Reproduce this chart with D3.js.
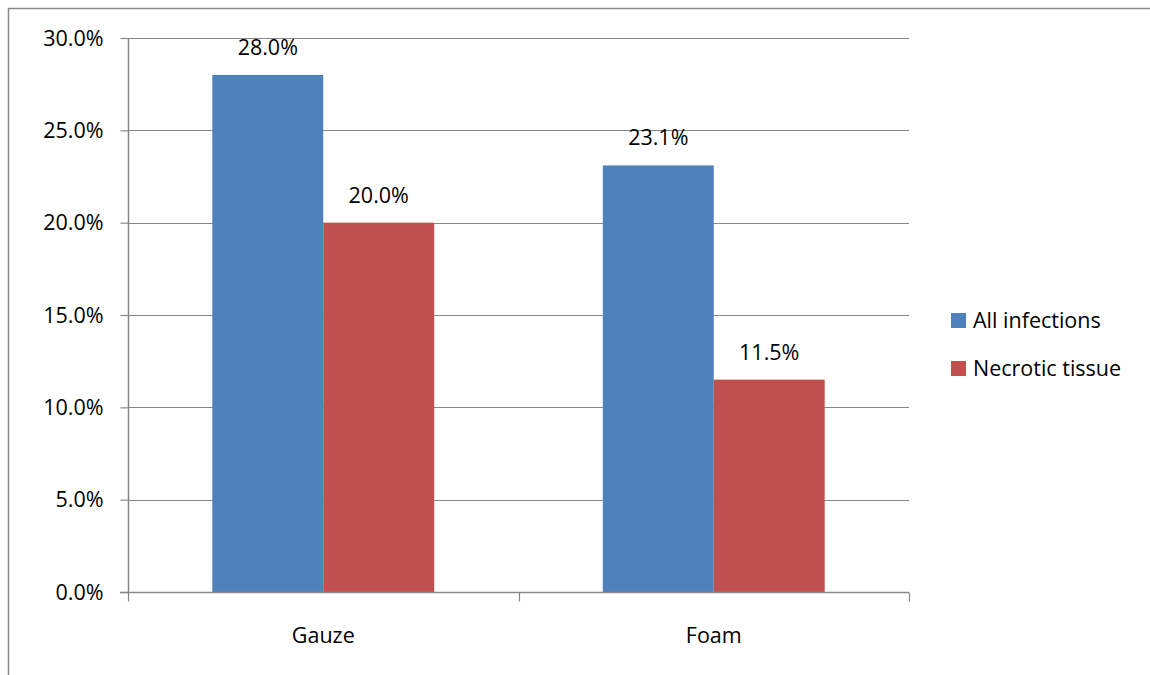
<!DOCTYPE html>
<html>
<head>
<meta charset="utf-8">
<script src="https://cdn.jsdelivr.net/npm/d3@7"></script>
<style>
  html, body { margin: 0; padding: 0; background: #fff; }
  svg { display: block; font-family: "Open Sans", Lato, sans-serif; }
</style>
</head>
<body>
<svg id="chart" width="1150" height="675"></svg>
<script>
// Wound dressing outcomes
const categories = ["Gauze", "Foam"];
const seriesNames = ["All infections", "Necrotic tissue"];
const allInfections = [0.280, 0.231];
const necroticTissue = [0.200, 0.115];
const yTicks = [0, 0.05, 0.10, 0.15, 0.20, 0.25, 0.30];
const colors = ["#4F81BD", "#C0504D"];

const seriesValues = [allInfections, necroticTissue];
const rows = categories.map((c, i) => ({
  category: c,
  values: seriesNames.map((s, j) => ({ series: s, value: seriesValues[j][i], idx: j }))
}));

const svg = d3.select("#chart");
const plot = { left: 128, right: 909, top: 38, bottom: 592 };
const grey = "#878787";
const fontFamily = "'Open Sans', Lato, sans-serif";
const fontSize = 21.5;
const fmt = d3.format(".1%");

// chart border
svg.append("rect")
  .attr("x", 8.5).attr("y", 8.5)
  .attr("width", 1160).attr("height", 700)
  .attr("fill", "none").attr("stroke", grey).attr("stroke-width", 1.5);

const x0 = d3.scaleBand().domain(categories).range([plot.left, plot.right]).paddingInner(0).paddingOuter(0);
const x1 = d3.scaleBand().domain(seriesNames).range([0, x0.bandwidth()]).paddingInner(0).paddingOuter(0.76);
const y = d3.scaleLinear().domain([0, 0.30]).range([plot.bottom, plot.top]);

// horizontal gridlines
svg.append("g")
  .selectAll("line")
  .data(yTicks.filter(t => t > 0))
  .join("line")
  .attr("x1", plot.left).attr("x2", plot.right)
  .attr("y1", d => Math.round(y(d)) + 0.5).attr("y2", d => Math.round(y(d)) + 0.5)
  .attr("stroke", grey).attr("stroke-width", 1.2);

// bars
const groups = svg.append("g").selectAll("g")
  .data(rows).join("g")
  .attr("transform", d => `translate(${x0(d.category)},0)`);

groups.selectAll("rect")
  .data(d => d.values).join("rect")
  .attr("x", d => x1(d.series))
  .attr("width", x1.bandwidth())
  .attr("y", d => y(d.value))
  .attr("height", d => y(0) - y(d.value))
  .attr("fill", d => colors[d.idx]);

groups.selectAll("text")
  .data(d => d.values).join("text")
  .attr("x", d => x1(d.series) + x1.bandwidth() / 2)
  .attr("y", d => y(d.value) - 20)
  .attr("text-anchor", "middle")
  .attr("font-size", fontSize)
  .attr("fill", "#000")
  .text(d => fmt(d.value));

// y axis
const yAxis = d3.axisLeft(y).tickValues(yTicks).tickFormat(fmt).tickSize(8).tickPadding(17);
const gy = svg.append("g").attr("transform", `translate(${plot.left + 0.5},0)`).call(yAxis);
gy.select(".domain").attr("stroke", grey).attr("stroke-width", 1.5).attr("d", `M0,${plot.top}V${plot.bottom}`);
gy.selectAll(".tick line").attr("stroke", grey).attr("stroke-width", 1.2);
gy.selectAll(".tick text").attr("font-size", fontSize).attr("fill", "#000").attr("font-family", fontFamily).attr("dy", "0.33em");

// x axis
const xAxis = d3.axisBottom(x0).tickSize(0).tickPadding(35);
const gx = svg.append("g").attr("transform", `translate(0,${plot.bottom + 0.5})`).call(xAxis);
gx.select(".domain").attr("stroke", grey).attr("stroke-width", 1.5).attr("d", `M${plot.left - 8},0H${plot.right}`);
gx.selectAll(".tick text").attr("font-size", fontSize).attr("fill", "#000").attr("font-family", fontFamily);
// category boundary ticks
const bounds = [plot.left, x0("Foam"), plot.right];
gx.selectAll(".sep").data(bounds).join("line")
  .attr("class", "sep")
  .attr("x1", d => Math.round(d) + 0.5).attr("x2", d => Math.round(d) + 0.5)
  .attr("y1", 0).attr("y2", 9)
  .attr("stroke", grey).attr("stroke-width", 1.2);

// legend
const legend = svg.append("g").attr("transform", "translate(951,313)");
const items = legend.selectAll("g").data(seriesNames).join("g")
  .attr("transform", (d, i) => `translate(0,${i * 48})`);
items.append("rect").attr("width", 15).attr("height", 15).attr("fill", (d, i) => colors[i]);
items.append("text").attr("x", 22).attr("y", 15).attr("font-size", fontSize).attr("fill", "#000").text(d => d);
</script>
</body>
</html>
